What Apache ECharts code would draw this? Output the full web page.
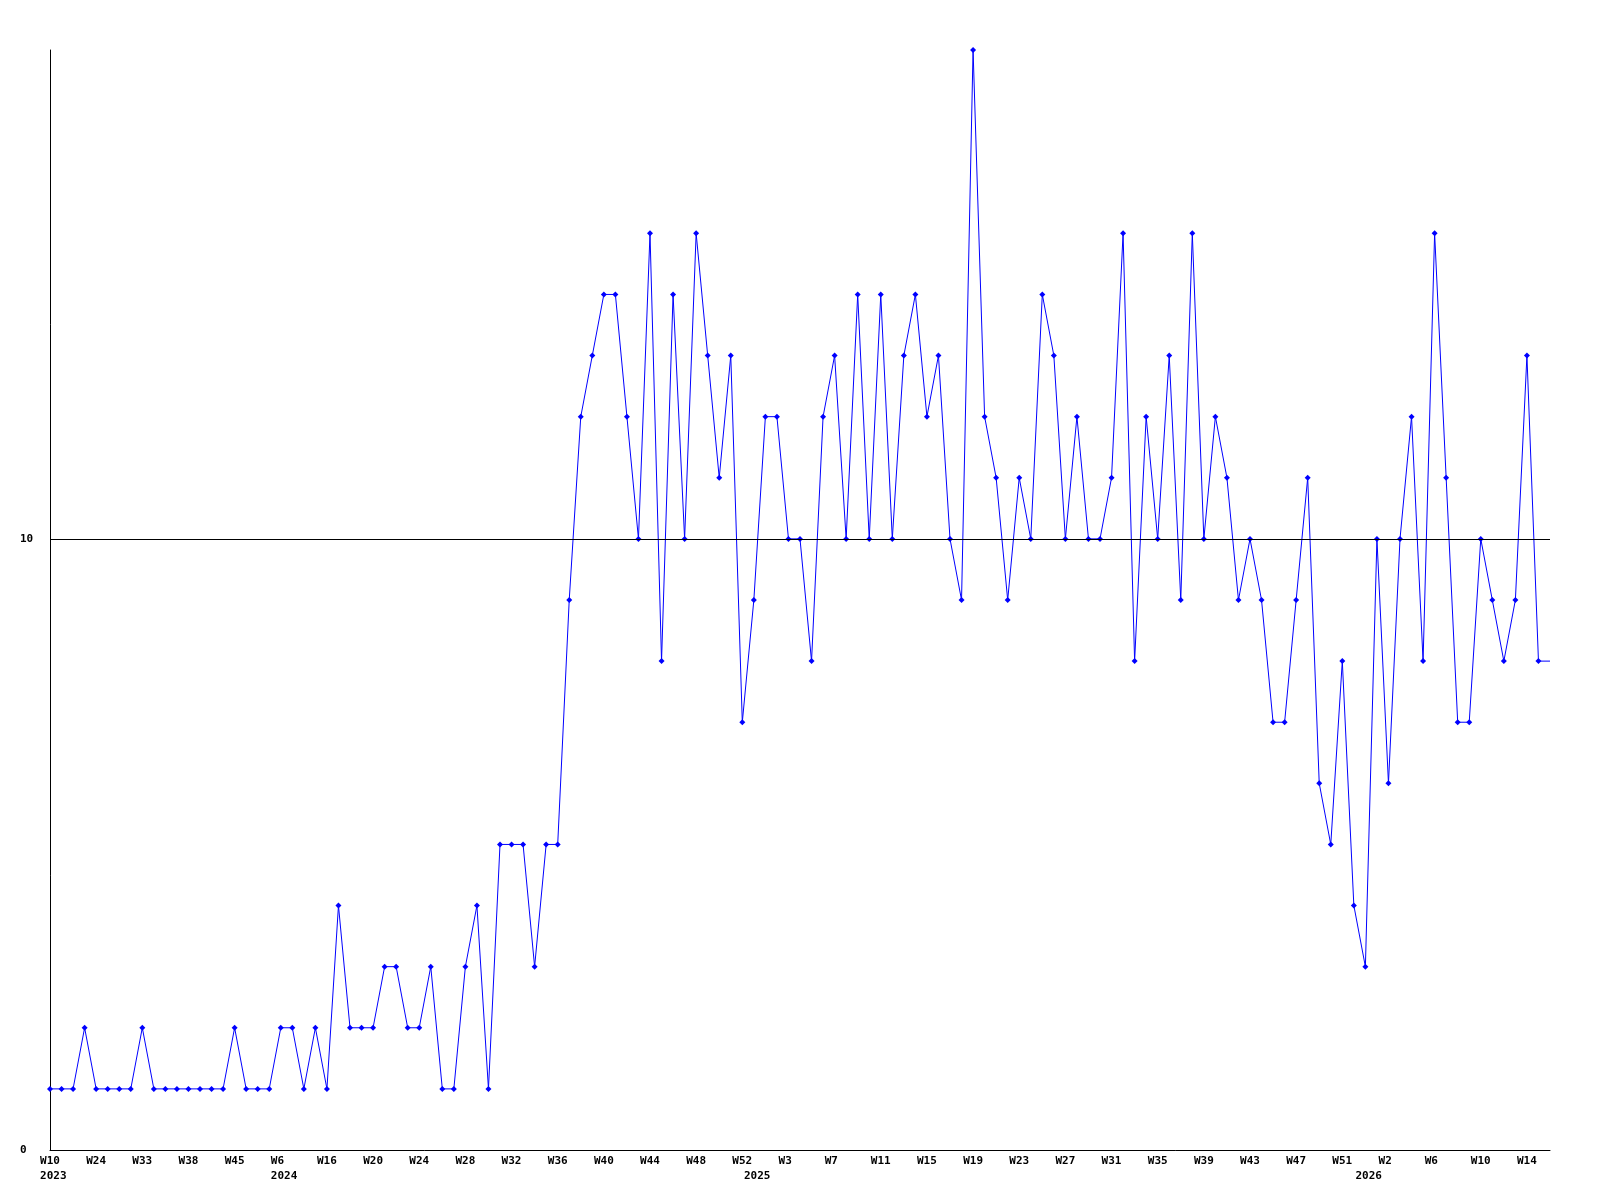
<!DOCTYPE html>
<html>
<head>
<meta charset="utf-8">
<script src="https://cdn.jsdelivr.net/npm/echarts@6/dist/echarts.min.js"></script>
<style>
html,body{margin:0;padding:0;background:#fff;}
#chart{width:1600px;height:1200px;}
</style>
</head>
<body>
<div id="chart"></div>
<script>
const weeks = [
 'W10','W12','W17','W20','W24','W26','W28','W31','W33','W34','W35','W37','W38','W40','W41','W43','W45','W47','W49','W51',
 'W6','W8','W11','W13','W16','W17','W18','W19','W20','W21','W22','W23','W24','W25','W26','W27','W28','W29','W30','W31',
 'W32','W33','W34','W35','W36','W37','W38','W39','W40','W41','W42','W43','W44','W45','W46','W47','W48','W49','W50','W51',
 'W52',
 'W0','W1','W2','W3','W4','W5','W6','W7','W8','W9','W10','W11','W12','W13','W14','W15','W16','W17','W18','W19','W20',
 'W21','W22','W23','W24','W25','W26','W27','W28','W29','W30','W31','W32','W33','W34','W35','W36','W37','W38','W39','W40',
 'W41','W42','W43','W44','W45','W46','W47','W48','W49','W50','W51','W52',
 'W0','W1','W2','W3','W4','W5','W6','W7','W8','W9','W10','W11','W12','W13','W14','W15','W16'
];
const years = [
 2023,2023,2023,2023,2023,2023,2023,2023,2023,2023,2023,2023,2023,2023,2023,2023,2023,2023,2023,2023,
 2024,2024,2024,2024,2024,2024,2024,2024,2024,2024,2024,2024,2024,2024,2024,2024,2024,2024,2024,2024,
 2024,2024,2024,2024,2024,2024,2024,2024,2024,2024,2024,2024,2024,2024,2024,2024,2024,2024,2024,2024,
 2024,
 2025,2025,2025,2025,2025,2025,2025,2025,2025,2025,2025,2025,2025,2025,2025,2025,2025,2025,2025,2025,
 2025,2025,2025,2025,2025,2025,2025,2025,2025,2025,2025,2025,2025,2025,2025,2025,2025,2025,2025,2025,
 2025,2025,2025,2025,2025,2025,2025,2025,2025,2025,2025,2025,2025,
 2026,2026,2026,2026,2026,2026,2026,2026,2026,2026,2026,2026,2026,2026,2026,2026,2026
];
const values = [
 1,1,1,2,1,1,1,1,2,1,1,1,1,1,1,1,2,1,1,1,
 2,2,1,2,1,4,2,2,2,3,3,2,2,3,1,1,3,4,1,5,
 5,5,3,5,5,9,12,13,14,14,12,10,15,8,14,10,15,13,11,13,
 7,9,12,12,10,10,8,12,13,10,14,10,14,10,13,14,12,13,10,9,
 18,12,11,9,11,10,14,13,10,12,10,10,11,15,8,12,10,13,9,15,
 10,12,11,9,10,9,7,7,9,11,6,5,8,4,3,10,6,10,12,8,
 15,11,7,7,10,9,8,9,13,8,8
];
const yTicks = [0, 10];
const refLine = 10;

const labelStep = 4;
const seriesData = values.map((v, i) => i === values.length - 1 ? {value: v, symbol: 'none'} : v);

function padRight(s, n) { while (s.length < n) s += ' '; return s; }

const chart = echarts.init(document.getElementById('chart'), null, {renderer: 'canvas'});
const font = {fontFamily: 'DejaVu Sans Mono', fontWeight: 'bold', fontSize: 11, color: '#000'};
chart.setOption({
  animation: false,
  backgroundColor: '#fff',
  grid: {left: 50, right: 50, top: 50, bottom: 50, containLabel: false},
  xAxis: [{
    type: 'category',
    data: weeks,
    boundaryGap: false,
    axisLine: {lineStyle: {color: '#000', width: 1}},
    axisTick: {show: false},
    splitLine: {show: false},
    axisLabel: Object.assign({}, font, {
      interval: labelStep - 1,
      margin: 5,
      lineHeight: 13,
      formatter: function (val) { return padRight(val, 3); }
    })
  }, {
    type: 'category',
    data: weeks,
    position: 'bottom',
    boundaryGap: false,
    axisLine: {show: false},
    axisTick: {show: false},
    splitLine: {show: false},
    axisLabel: Object.assign({}, font, {
      interval: 0,
      margin: 20,
      lineHeight: 13,
      hideOverlap: false,
      formatter: function (val, idx) {
        if (idx === 0 || years[idx] !== years[idx - 1]) return ' ' + years[idx];
        return '';
      }
    })
  }],
  yAxis: {
    type: 'value',
    min: 0,
    max: 18,
    interval: 10,
    axisLine: {show: true, lineStyle: {color: '#000', width: 1}},
    axisTick: {show: false},
    splitLine: {show: false},
    axisLabel: Object.assign({}, font, {
      align: 'left',
      margin: 30,
      showMaxLabel: false,
      formatter: function (v) { return yTicks.indexOf(v) >= 0 ? String(v) : ''; }
    })
  },
  series: [{
    type: 'line',
    data: seriesData,
    symbol: 'diamond',
    symbolSize: 6,
    showSymbol: true,
    showAllSymbol: true,
    lineStyle: {color: '#0000ff', width: 1},
    itemStyle: {color: '#0000ff'},
    emphasis: {disabled: true},
    markLine: {
      silent: true,
      symbol: 'none',
      label: {show: false},
      lineStyle: {color: '#000', width: 1, type: 'solid'},
      data: [{yAxis: refLine}]
    },
    z: 3
  }]
});
</script>
</body>
</html>
